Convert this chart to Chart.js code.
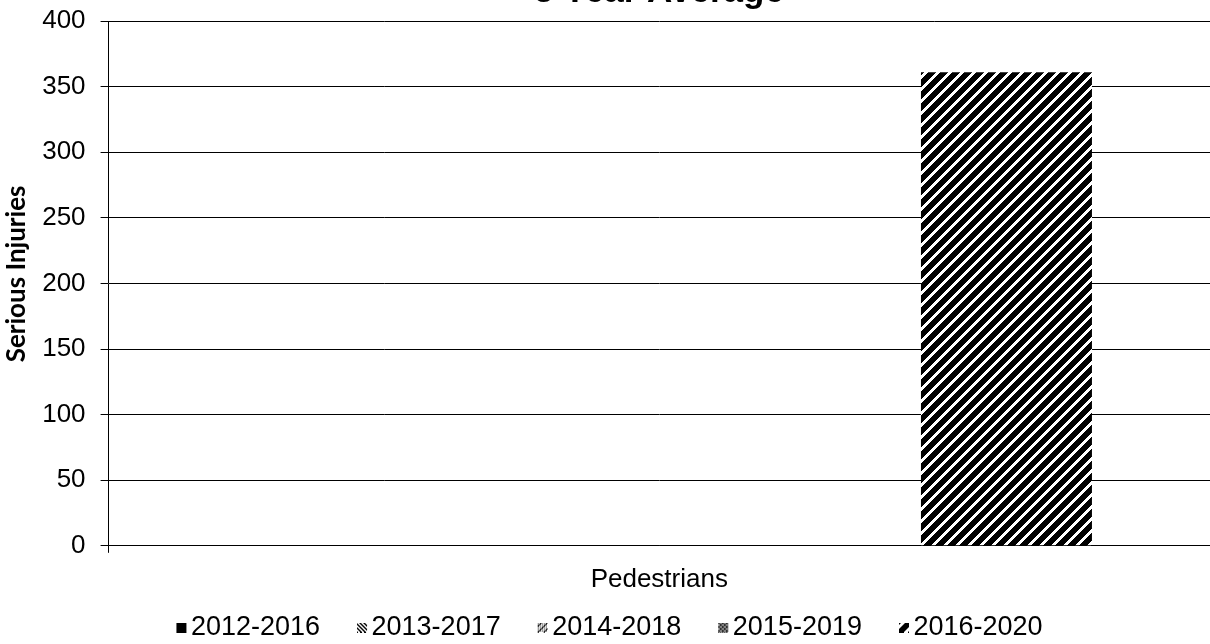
<!DOCTYPE html>
<html>
<head>
<meta charset="utf-8">
<script src="https://cdn.jsdelivr.net/npm/chart.js@4.4.1/dist/chart.umd.min.js"></script>
<style>
  html, body { margin: 0; padding: 0; background: #fff; }
  #wrap { width: 1210px; height: 644px; }
</style>
</head>
<body>
<div id="wrap"><canvas id="chart"></canvas></div>
<script>
// --- data ---
const categories = ['Pedestrians'];
const periods = ['2012-2016', '2013-2017', '2014-2018', '2015-2019', '2016-2020'];
const s2012_2016 = [0];
const s2013_2017 = [0];
const s2014_2018 = [0];
const s2015_2019 = [0];
const s2016_2020 = [361];
const yTicks = [0, 50, 100, 150, 200, 250, 300, 350, 400];
const chartTitle = '5 Year Average';

// --- black & white fill patterns (Excel style) ---
function tile(size, isBlack) {
  const c = document.createElement('canvas');
  c.width = c.height = size;
  const g = c.getContext('2d');
  g.fillStyle = '#fff';
  g.fillRect(0, 0, size, size);
  g.fillStyle = '#000';
  for (let y = 0; y < size; y++)
    for (let x = 0; x < size; x++)
      if (isBlack(x, y)) g.fillRect(x, y, 1, 1);
  return c;
}
const tiles = [
  tile(12, () => true),
  tile(12, (x, y) => (x - y + 24) % 4 < 2),
  tile(12, (x, y) => x % 2 === 0 && y % 2 === 0 || (x + y) % 6 === 1),
  tile(12, (x, y) => (x + y) % 4 !== 0 && (x - y + 24) % 4 !== 0 || (x + y) % 2 === 1),
  tile(12, (x, y) => (x + y) % 12 >= 4)
];
const ctx = document.getElementById('chart').getContext('2d');
const patterns = tiles.map(t => ctx.createPattern(t, 'repeat'));

// legend swatch: 10x10 square, offset so it sits just left of the text
function swatch(p) {
  const c = document.createElement('canvas');
  c.width = 22; c.height = 10;
  const g = c.getContext('2d');
  g.fillStyle = p;
  g.fillRect(10, 0, 10, 10);
  return c;
}
const swatches = tiles.map(t => swatch(ctx.createPattern(t, 'repeat')));

const seriesValues = [s2012_2016, s2013_2017, s2014_2018, s2015_2019, s2016_2020];

const clippedTitle = {
  id: 'clippedTitle',
  afterDraw(chart) {
    const c = chart.ctx;
    c.save();
    c.font = "bold 35px 'Liberation Sans', Arial, sans-serif";
    c.fillStyle = '#000';
    c.textAlign = 'center';
    c.textBaseline = 'alphabetic';
    c.fillText(chartTitle, 659, 2);
    c.restore();
  }
};

new Chart(ctx, {
  type: 'bar',
  data: {
    labels: categories,
    datasets: periods.map((name, i) => ({
      label: name,
      data: seriesValues[i],
      backgroundColor: patterns[i],
      borderWidth: 0,
      categoryPercentage: 0.788,
      barPercentage: 0.985
    }))
  },
  plugins: [clippedTitle],
  options: {
    responsive: true,
    maintainAspectRatio: false,
    animation: false,
    layout: { padding: { left: 1, right: -9, top: 21, bottom: -7 } },
    plugins: {
      title: { display: false },
      tooltip: { enabled: false },
      legend: {
        position: 'bottom',
        labels: {
          usePointStyle: true,
          boxWidth: 0.01,
          padding: 8,
          color: '#000',
          font: { family: "'Liberation Sans', Arial, sans-serif", size: 27 },
          generateLabels(chart) {
            const items = Chart.defaults.plugins.legend.labels.generateLabels(chart);
            items.forEach((it, i) => {
              it.pointStyle = swatches[i];
              if (i < items.length - 1) it.text = it.text + '    ';
            });
            return items;
          }
        }
      }
    },
    scales: {
      x: {
        grid: { display: true, drawOnChartArea: false, drawTicks: true, tickLength: 7, color: '#000' },
        border: { display: true, color: '#000' },
        ticks: { color: '#000', padding: 11, font: { family: "'Liberation Sans', Arial, sans-serif", size: 26 } }
      },
      y: {
        min: 0,
        max: 400,
        afterBuildTicks(scale) { scale.ticks = yTicks.map(v => ({ value: v })); },
        grid: { color: '#000', tickLength: 8 },
        border: { display: true, color: '#000' },
        ticks: { color: '#000', padding: 15, font: { family: "'Liberation Sans', Arial, sans-serif", size: 26, lineHeight: 0.4 } },
        title: {
          display: true,
          text: '   Serious Injuries',
          color: '#000',
          padding: { top: 0, bottom: -5 },
          font: { family: "Lato, 'Open Sans', sans-serif", size: 26, weight: 'bold' }
        }
      }
    }
  }
});
</script>
</body>
</html>
